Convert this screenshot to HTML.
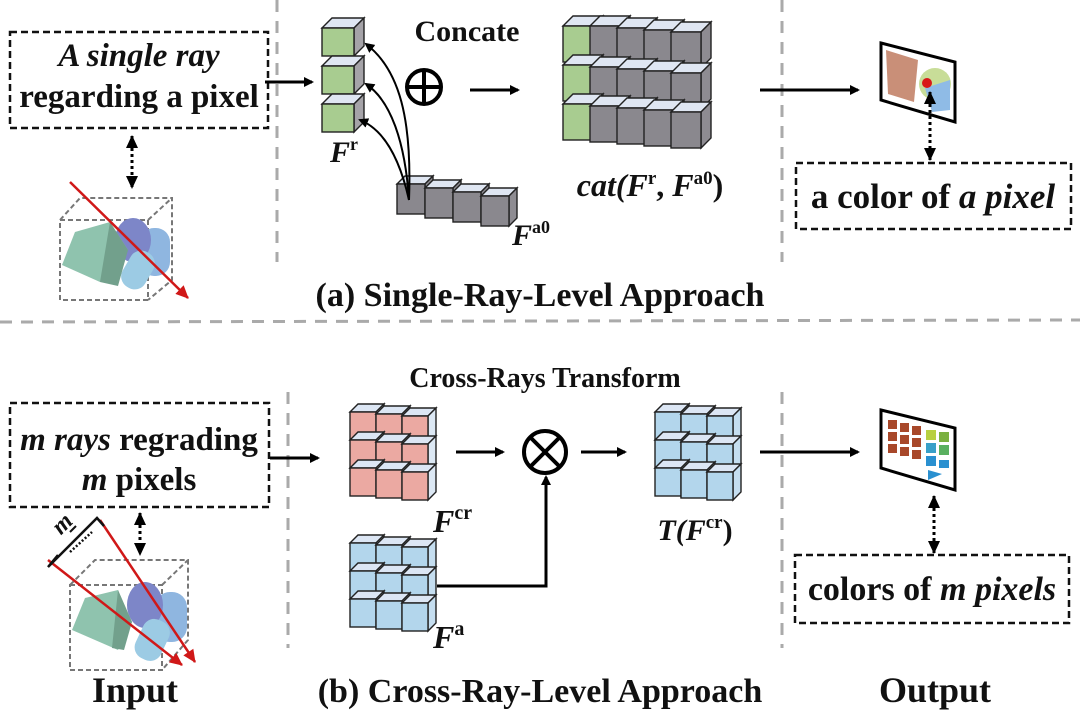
<!DOCTYPE html>
<html><head><meta charset="utf-8"><style>
body{margin:0;background:#fff}
svg{display:block}
text{font-family:"Liberation Serif",serif;font-weight:bold;fill:#111}
</style></head><body>
<svg width="1080" height="716" viewBox="0 0 1080 716" xmlns="http://www.w3.org/2000/svg">
<defs>
<marker id="ah" markerWidth="10" markerHeight="10" refX="8" refY="5" orient="auto" markerUnits="userSpaceOnUse"><path d="M0,0 L10,5 L0,10 z" fill="#000"/></marker>
<marker id="ahs" markerWidth="14" markerHeight="14" refX="12" refY="7" orient="auto-start-reverse" markerUnits="userSpaceOnUse"><path d="M0,1 L13,7 L0,13 z" fill="#000"/></marker>
<marker id="rh" markerWidth="14" markerHeight="14" refX="12" refY="7" orient="auto" markerUnits="userSpaceOnUse"><path d="M0,1 L13,7 L0,13 z" fill="#d01818"/></marker>
<g id="cg" stroke="#222" stroke-width="1.4">
<polygon points="0,10 10,0 42,0 32,10" fill="#dfe6f2"/>
<polygon points="32,10 42,0 42,28 32,38" fill="#a5a3a8"/>
<rect x="0" y="10" width="32" height="28" fill="#a8cc90"/>
</g>
<g id="cgr" stroke="#222" stroke-width="1.4">
<polygon points="0,10 10,0 40,0 30,10" fill="#dfe6f2"/>
<polygon points="30,10 40,0 40,36 30,46" fill="#8e8c92"/>
<rect x="0" y="10" width="30" height="36" fill="#8a888e"/>
</g>
<g id="cgg" stroke="#222" stroke-width="1.4">
<polygon points="0,10 10,0 40,0 30,10" fill="#dfe6f2"/>
<polygon points="30,10 40,0 40,36 30,46" fill="#a5a3a8"/>
<rect x="0" y="10" width="30" height="36" fill="#a8cc90"/>
</g>
<g id="cs" stroke="#222" stroke-width="1.4">
<polygon points="0,8 8,0 36,0 28,8" fill="#dfe6f2"/>
<polygon points="28,8 36,0 36,30 28,38" fill="#8e8c92"/>
<rect x="0" y="8" width="28" height="30" fill="#8a888e"/>
</g>
<g id="cr" stroke="#222" stroke-width="1.4">
<polygon points="0,8 8,0 34,0 26,8" fill="#dce6f4"/>
<polygon points="26,8 34,0 34,28 26,36" fill="#dce8f4"/>
<rect x="0" y="8" width="26" height="28" fill="#eba9a2"/>
</g>
<g id="cb" stroke="#222" stroke-width="1.4">
<polygon points="0,8 8,0 34,0 26,8" fill="#dce6f4"/>
<polygon points="26,8 34,0 34,28 26,36" fill="#c5def0"/>
<rect x="0" y="8" width="26" height="28" fill="#b3d6ec"/>
</g>
</defs>

<g stroke="#aaa" stroke-width="3" stroke-dasharray="12,9">
<line x1="277" y1="0" x2="277" y2="262"/>
<line x1="782" y1="0" x2="782" y2="262"/>
<line x1="0" y1="322" x2="1080" y2="320"/>
<line x1="288" y1="392" x2="288" y2="648"/>
<line x1="782" y1="392" x2="782" y2="648"/>
</g>

<!-- ===== TOP ===== -->
<rect x="10" y="32" width="258" height="96" fill="none" stroke="#111" stroke-width="2.5" stroke-dasharray="7,4"/>
<text x="139" y="66" font-size="33" text-anchor="middle" font-style="italic">A single ray</text>
<text x="139" y="107" font-size="33" text-anchor="middle">regarding a pixel</text>
<line x1="265" y1="82" x2="312" y2="82" stroke="#000" stroke-width="3" marker-end="url(#ah)"/>
<line x1="132" y1="136" x2="132" y2="188" stroke="#000" stroke-width="3" stroke-dasharray="3,3" marker-start="url(#ahs)" marker-end="url(#ahs)"/>

<g>
<rect x="60" y="220" width="88" height="80" fill="none" stroke="#777" stroke-width="2" stroke-dasharray="5,3"/>
<polyline points="60,220 80,198 172,198 172,280 148,300" fill="none" stroke="#777" stroke-width="2" stroke-dasharray="5,3"/>
<line x1="148" y1="220" x2="172" y2="198" stroke="#777" stroke-width="2" stroke-dasharray="5,3"/>
<rect x="140" y="228" width="30" height="48" rx="14" fill="#8fb6e0"/>
<ellipse cx="133" cy="240" rx="18" ry="22" fill="#7d86c8"/>
<rect x="125" y="250" width="26" height="40" rx="12" fill="#9ccbe4" transform="rotate(30 138 270)"/>
<polygon points="75,232 110,222 128,250 100,282 62,265" fill="#8fc3ae"/>
<polygon points="110,222 128,250 118,286 100,282" fill="#72a08c"/>
<line x1="70" y1="182" x2="188" y2="298" stroke="#d01818" stroke-width="2.5" marker-end="url(#rh)"/>
</g>

<use href="#cg" x="322" y="18"/>
<use href="#cg" x="322" y="56"/>
<use href="#cg" x="322" y="94"/>
<text x="330" y="162" font-size="30" font-style="italic">F<tspan font-size="18" dy="-12" font-style="normal">r</tspan></text>

<use href="#cs" x="397" y="176"/>
<use href="#cs" x="425" y="180"/>
<use href="#cs" x="453" y="184"/>
<use href="#cs" x="481" y="188"/>
<text x="512" y="245" font-size="30" font-style="italic">F<tspan font-size="18" dy="-12" font-style="normal">a0</tspan></text>

<g fill="none" stroke="#000" stroke-width="2">
<path d="M409,200 C412,120 400,70 366,44" marker-end="url(#ah)"/>
<path d="M409,200 C405,140 390,100 366,84" marker-end="url(#ah)"/>
<path d="M409,200 C400,160 385,130 360,120" marker-end="url(#ah)"/>
</g>

<text x="467" y="41" font-size="30" text-anchor="middle">Concate</text>
<circle cx="424" cy="87" r="17" fill="none" stroke="#000" stroke-width="4"/>
<line x1="424" y1="70" x2="424" y2="104" stroke="#000" stroke-width="4"/>
<line x1="407" y1="87" x2="441" y2="87" stroke="#000" stroke-width="4"/>
<line x1="470" y1="90" x2="518" y2="90" stroke="#000" stroke-width="3" marker-end="url(#ah)"/>

<g>
<use href="#cgg" x="563" y="16"/><use href="#cgr" x="590" y="16"/><use href="#cgr" x="617" y="18"/><use href="#cgr" x="644" y="20"/><use href="#cgr" x="671" y="22"/>
<use href="#cgg" x="563" y="55"/><use href="#cgr" x="590" y="57"/><use href="#cgr" x="617" y="59"/><use href="#cgr" x="644" y="61"/><use href="#cgr" x="671" y="63"/>
<use href="#cgg" x="563" y="94"/><use href="#cgr" x="590" y="96"/><use href="#cgr" x="617" y="98"/><use href="#cgr" x="644" y="100"/><use href="#cgr" x="671" y="102"/>
</g>
<text x="650" y="196" font-size="32" text-anchor="middle" font-style="italic">cat(F<tspan font-size="19" dy="-12" font-style="normal">r</tspan><tspan dy="12" font-style="normal">, </tspan><tspan>F</tspan><tspan font-size="19" dy="-12" font-style="normal">a0</tspan><tspan dy="12" font-style="normal">)</tspan></text>

<line x1="760" y1="90" x2="858" y2="90" stroke="#000" stroke-width="3" marker-end="url(#ah)"/>

<polygon points="881,43 955,62 955,122 881,100" fill="#fff" stroke="#000" stroke-width="3"/>
<polygon points="886,50 918,60 914,102 888,94" fill="#c98f78"/>
<circle cx="935" cy="84" r="16" fill="#c8dd98"/>
<polygon points="925,88 950,80 950,110 932,112" fill="#8fbbe6"/>
<circle cx="927" cy="83" r="5" fill="#d81818"/>
<line x1="930" y1="92" x2="930" y2="160" stroke="#000" stroke-width="3" stroke-dasharray="3,3" marker-start="url(#ahs)" marker-end="url(#ahs)"/>
<rect x="796" y="163" width="275" height="66" fill="none" stroke="#111" stroke-width="2.5" stroke-dasharray="7,4"/>
<text x="933" y="208" font-size="35" text-anchor="middle">a color of <tspan font-style="italic">a pixel</tspan></text>

<text x="540" y="306" font-size="34" text-anchor="middle">(a) Single-Ray-Level Approach</text>

<!-- ===== BOTTOM ===== -->
<text x="545" y="387" font-size="28" text-anchor="middle">Cross-Rays Transform</text>
<rect x="10" y="403" width="259" height="104" fill="none" stroke="#111" stroke-width="2.5" stroke-dasharray="7,4"/>
<text x="139" y="450" font-size="33" text-anchor="middle"><tspan font-style="italic">m rays</tspan> regrading</text>
<text x="139" y="490" font-size="33" text-anchor="middle"><tspan font-style="italic">m</tspan> pixels</text>
<line x1="270" y1="458" x2="318" y2="458" stroke="#000" stroke-width="3" marker-end="url(#ah)"/>
<line x1="140" y1="513" x2="140" y2="555" stroke="#000" stroke-width="3" stroke-dasharray="3,3" marker-start="url(#ahs)" marker-end="url(#ahs)"/>

<g>
<rect x="70" y="585" width="92" height="85" fill="none" stroke="#777" stroke-width="2" stroke-dasharray="5,3"/>
<polyline points="70,585 95,560 188,560 188,640 162,670" fill="none" stroke="#777" stroke-width="2" stroke-dasharray="5,3"/>
<line x1="162" y1="585" x2="188" y2="560" stroke="#777" stroke-width="2" stroke-dasharray="5,3"/>
<rect x="155" y="592" width="32" height="50" rx="15" fill="#8fb6e0"/>
<ellipse cx="145" cy="605" rx="18" ry="23" fill="#7d86c8"/>
<rect x="138" y="618" width="28" height="42" rx="12" fill="#9ccbe4" transform="rotate(25 150 640)"/>
<polygon points="85,598 118,590 132,622 118,650 72,630" fill="#8fc3ae"/>
<polygon points="118,590 132,622 124,650 112,648" fill="#72a08c"/>
<line x1="48" y1="560" x2="182" y2="665" stroke="#d01818" stroke-width="2.5" marker-end="url(#rh)"/>
<line x1="100" y1="520" x2="195" y2="662" stroke="#d01818" stroke-width="2.5" marker-end="url(#rh)"/>
<polyline points="58,555 48,567 97,518 104,526" fill="none" stroke="#111" stroke-width="2.5"/>
<line x1="70" y1="552" x2="92" y2="532" stroke="#111" stroke-width="2.5" stroke-dasharray="2,2"/>
<line x1="70" y1="532" x2="76" y2="526" stroke="#111" stroke-width="2"/>
<text x="56" y="536" font-size="24" font-style="italic" transform="rotate(-45 58 530)">m</text>
</g>

<g>
<use href="#cr" x="350" y="404"/><use href="#cr" x="376" y="406"/><use href="#cr" x="402" y="408"/>
<use href="#cr" x="350" y="432"/><use href="#cr" x="376" y="434"/><use href="#cr" x="402" y="436"/>
<use href="#cr" x="350" y="460"/><use href="#cr" x="376" y="462"/><use href="#cr" x="402" y="464"/>
</g>
<text x="433" y="532" font-size="32" font-style="italic">F<tspan font-size="20" dy="-13" font-style="normal">cr</tspan></text>

<g>
<use href="#cb" x="350" y="535"/><use href="#cb" x="376" y="537"/><use href="#cb" x="402" y="539"/>
<use href="#cb" x="350" y="563"/><use href="#cb" x="376" y="565"/><use href="#cb" x="402" y="567"/>
<use href="#cb" x="350" y="591"/><use href="#cb" x="376" y="593"/><use href="#cb" x="402" y="595"/>
</g>
<text x="433" y="648" font-size="32" font-style="italic">F<tspan font-size="20" dy="-13" font-style="normal">a</tspan></text>

<line x1="456" y1="452" x2="503" y2="452" stroke="#000" stroke-width="3" marker-end="url(#ah)"/>
<circle cx="545" cy="452" r="21" fill="none" stroke="#000" stroke-width="4"/>
<line x1="530" y1="437" x2="560" y2="467" stroke="#000" stroke-width="4"/>
<line x1="560" y1="437" x2="530" y2="467" stroke="#000" stroke-width="4"/>
<polyline points="437,586 546,586 546,477" fill="none" stroke="#000" stroke-width="3" marker-end="url(#ah)"/>
<line x1="581" y1="452" x2="625" y2="452" stroke="#000" stroke-width="3" marker-end="url(#ah)"/>

<g>
<use href="#cb" x="655" y="404"/><use href="#cb" x="681" y="406"/><use href="#cb" x="707" y="408"/>
<use href="#cb" x="655" y="432"/><use href="#cb" x="681" y="434"/><use href="#cb" x="707" y="436"/>
<use href="#cb" x="655" y="460"/><use href="#cb" x="681" y="462"/><use href="#cb" x="707" y="464"/>
</g>
<text x="695" y="540" font-size="30" text-anchor="middle" font-style="italic">T(F<tspan font-size="19" dy="-12" font-style="normal">cr</tspan><tspan dy="12" font-style="normal">)</tspan></text>

<line x1="760" y1="452" x2="858" y2="452" stroke="#000" stroke-width="3" marker-end="url(#ah)"/>

<polygon points="881,410 955,428 955,490 881,468" fill="#fff" stroke="#000" stroke-width="3"/>
<g fill="#a8482a">
<rect x="888" y="420" width="9" height="9"/><rect x="900" y="423" width="9" height="9"/><rect x="912" y="426" width="9" height="9"/>
<rect x="888" y="432" width="9" height="9"/><rect x="900" y="435" width="9" height="9"/><rect x="912" y="438" width="9" height="9"/>
<rect x="888" y="444" width="9" height="9"/><rect x="900" y="447" width="9" height="9"/><rect x="912" y="450" width="9" height="9"/>
</g>
<rect x="926" y="430" width="10" height="10" fill="#b8d040"/><rect x="939" y="432" width="10" height="10" fill="#7ab040"/>
<rect x="926" y="443" width="10" height="10" fill="#3aa0c8"/><rect x="939" y="445" width="10" height="10" fill="#5ab060"/>
<rect x="926" y="456" width="10" height="10" fill="#2a90d0"/><rect x="939" y="460" width="10" height="8" fill="#2a90d0"/>
<polygon points="928,470 942,474 928,480" fill="#2a90d0"/>
<line x1="934" y1="496" x2="934" y2="553" stroke="#000" stroke-width="3" stroke-dasharray="3,3" marker-start="url(#ahs)" marker-end="url(#ahs)"/>
<rect x="795" y="555" width="274" height="68" fill="none" stroke="#111" stroke-width="2.5" stroke-dasharray="7,4"/>
<text x="932" y="600" font-size="34" text-anchor="middle">colors of <tspan font-style="italic">m pixels</tspan></text>

<text x="135" y="702" font-size="36" text-anchor="middle">Input</text>
<text x="540" y="702" font-size="34" text-anchor="middle">(b) Cross-Ray-Level Approach</text>
<text x="935" y="702" font-size="36" text-anchor="middle">Output</text>
</svg>
</body></html>
